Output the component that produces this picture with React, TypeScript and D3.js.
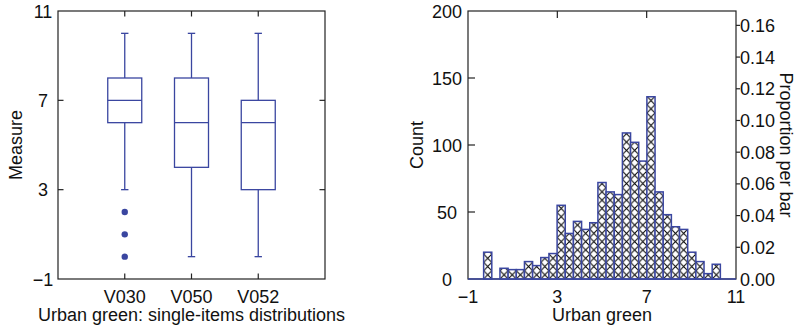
import * as d3 from "d3";

const categories = ["V030", "V050", "V052"];
const whiskerLow = [3, 0, 0];
const q1 = [6, 4, 3];
const median = [7, 6, 6];
const q3 = [8, 8, 7];
const whiskerHigh = [10, 10, 10];
const outliers = [[2, 1, 0], [], []];
const measureTicks = [-1, 3, 7, 11];

// histogram: 29 bins starting at -0.3
const binStart = -0.3;
const binWidth = 0.3655;
const counts = [20, 0, 8, 7, 7, 13, 10, 16, 19, 55, 34, 43, 37, 42, 72, 65, 63, 109, 102, 88, 136, 65, 48, 39, 37, 20, 13, 4, 11];
const countTicks = [0, 50, 100, 150, 200];
const propTicks = [0, 0.02, 0.04, 0.06, 0.08, 0.1, 0.12, 0.14, 0.16];
const xTicks = [-1, 3, 7, 11];

const W = 803, H = 329;
const BLUE = "#3a46a0";
const INK = "#222";
const FONT = "'Liberation Sans', Arial, Helvetica, sans-serif";
const top = 11, bottom = 279;

const fmt = (d: number) => (d < 0 ? "\u2212" + Math.abs(d) : String(d));

function BoxPanel() {
    const x0 = 58, x1 = 325;
    const x = d3.scalePoint<string>().domain(categories).range([x0, x1]).padding(1);
    const y = d3.scaleLinear().domain([-1, 11]).range([bottom, top]);
    const half = 17, cap = 3.7, tick = 5.5;
    return (
        <g>
            <rect x={x0} y={top} width={x1 - x0} height={bottom - top} fill="none" stroke={INK} strokeWidth={1.2} />
            {measureTicks.slice(1, -1).map(t => (
                <g key={t}>
                    <line x1={x0} x2={x0 + tick} y1={y(t)} y2={y(t)} stroke={INK} strokeWidth={1.2} />
                    <line x1={x1} x2={x1 - tick} y1={y(t)} y2={y(t)} stroke={INK} strokeWidth={1.2} />
                </g>
            ))}
            {measureTicks.map(t => (
                <text key={t} x={43} y={y(t) + 6.5} textAnchor="middle" fontSize={18}>{fmt(t)}</text>
            ))}
            {categories.map((c, i) => {
                const cx = x(c)!;
                return (
                    <g key={c}>
                        <line x1={cx} x2={cx} y1={top} y2={top + tick} stroke={INK} strokeWidth={1.2} />
                        <line x1={cx} x2={cx} y1={bottom} y2={bottom - tick} stroke={INK} strokeWidth={1.2} />
                        <text x={cx} y={302.5} textAnchor="middle" fontSize={18}>{c}</text>
                        <g stroke={BLUE} strokeWidth={1.3} fill="none">
                            <line x1={cx} x2={cx} y1={y(whiskerHigh[i])} y2={y(q3[i])} />
                            <line x1={cx} x2={cx} y1={y(q1[i])} y2={y(whiskerLow[i])} />
                            <line x1={cx - cap} x2={cx + cap} y1={y(whiskerHigh[i])} y2={y(whiskerHigh[i])} />
                            <line x1={cx - cap} x2={cx + cap} y1={y(whiskerLow[i])} y2={y(whiskerLow[i])} />
                            <rect x={cx - half} y={y(q3[i])} width={half * 2} height={y(q1[i]) - y(q3[i])} />
                            <line x1={cx - half} x2={cx + half} y1={y(median[i])} y2={y(median[i])} />
                        </g>
                        {outliers[i].map(v => (
                            <circle key={v} cx={cx} cy={y(v)} r={3.2} fill={BLUE} />
                        ))}
                    </g>
                );
            })}
            <text transform={`translate(22,${(top + bottom) / 2}) rotate(-90)`} textAnchor="middle" fontSize={18}>Measure</text>
            <text x={(x0 + x1) / 2} y={321} textAnchor="middle" fontSize={18}>Urban green: single-items distributions</text>
        </g>
    );
}

function HistPanel() {
    const x0 = 468, x1 = 736;
    const total = d3.sum(counts);
    const x = d3.scaleLinear().domain([-1, 11]).range([x0, x1]);
    const y = d3.scaleLinear().domain([0, 200]).range([bottom, top]);
    const yp = d3.scaleLinear().domain([0, 200 / total]).range([bottom, top]);
    const bw = x(binStart + binWidth) - x(binStart);
    const ph = 8.3;
    const tick = 7;
    return (
        <g>
            <defs>
                <pattern id="xhatch" patternUnits="userSpaceOnUse" x={x(binStart)} y={bottom} width={bw} height={ph}>
                    <rect width={bw} height={ph} fill="#fff" />
                    <path d={`M0,0L${bw},${ph}M${bw},0L0,${ph}`} stroke="#000" strokeWidth={1.05} />
                </pattern>
            </defs>
            <rect x={x0} y={top} width={x1 - x0} height={bottom - top} fill="none" stroke={INK} strokeWidth={1.2} />
            {countTicks.slice(1, -1).map(t => (
                <line key={t} x1={x0} x2={x0 + tick} y1={y(t)} y2={y(t)} stroke={INK} strokeWidth={1.2} />
            ))}
            {countTicks.map(t => (
                <text key={t} x={447} y={y(t) + 6.5} textAnchor="middle" fontSize={18}>{t}</text>
            ))}
            {propTicks.map(t => (
                <g key={t}>
                    {t > 0 && <line x1={x1} x2={x1 + 4} y1={yp(t)} y2={yp(t)} stroke={INK} strokeWidth={1.2} />}
                    <text x={740} y={yp(t) + 6.5} fontSize={18}>{t.toFixed(2)}</text>
                </g>
            ))}
            {xTicks.map(t => (
                <g key={t}>
                    {t > -1 && t < 11 && (
                        <>
                            <line x1={x(t)} x2={x(t)} y1={top} y2={top + tick} stroke={INK} strokeWidth={1.2} />
                            <line x1={x(t)} x2={x(t)} y1={bottom} y2={bottom - tick} stroke={INK} strokeWidth={1.2} />
                        </>
                    )}
                    <text x={x(t)} y={302.5} textAnchor="middle" fontSize={18}>{fmt(t)}</text>
                </g>
            ))}
            {counts.map((c, i) => c > 0 && (
                <rect key={i}
                    x={x(binStart + i * binWidth)} y={y(c)}
                    width={bw} height={y(0) - y(c)}
                    fill="url(#xhatch)" stroke={BLUE} strokeWidth={1.5} />
            ))}
            <line x1={x0} x2={x1} y1={bottom} y2={bottom} stroke={BLUE} strokeWidth={1.6} />
            <text transform={`translate(423,${(top + bottom) / 2}) rotate(-90)`} textAnchor="middle" fontSize={18}>Count</text>
            <text transform={`translate(780,${(top + bottom) / 2}) rotate(90)`} textAnchor="middle" fontSize={18}>Proportion per bar</text>
            <text x={(x0 + x1) / 2} y={321} textAnchor="middle" fontSize={18}>Urban green</text>
        </g>
    );
}

export default function App() {
    return (
        <svg width={W} height={H} style={{ position: "absolute", left: 0, top: 0, background: "#fff" }}
            fontFamily={FONT} fill="#111">
            <BoxPanel />
            <HistPanel />
        </svg>
    );
}
